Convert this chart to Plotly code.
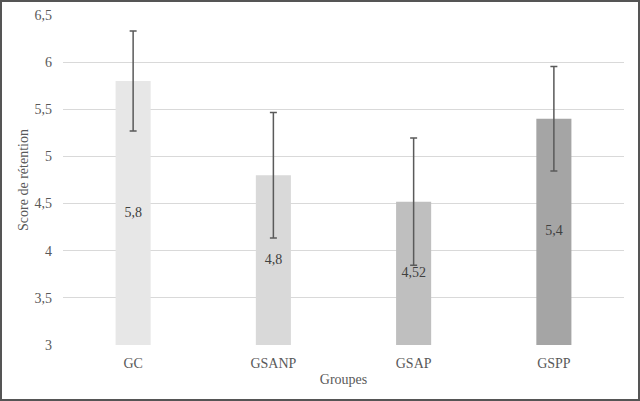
import plotly.graph_objects as go

categories = ["GC", "GSANP", "GSAP", "GSPP"]
scores = [5.8, 4.8, 4.52, 5.4]
errors = [0.53, 0.665, 0.675, 0.555]
bar_colors = ["#e7e7e7", "#d9d9d9", "#bfbfbf", "#a5a5a5"]
y_ticks = [3, 3.5, 4, 4.5, 5, 5.5, 6, 6.5]
y_min, y_max = 3, 6.5

labels = [str(v).replace(".", ",") for v in scores]
label_y = [(y_min + v) / 2 for v in scores]

W, H = 640, 401
ml, mr, mt, mb = 63, 16, 15, 56
pw, ph = W - ml - mr, H - mt - mb

fig = go.Figure()
fig.add_trace(go.Bar(
    x=categories, y=scores,
    marker=dict(color=bar_colors, line=dict(width=0)),
    error_y=dict(type="data", array=errors, visible=True,
                 color="#5a5a5a", thickness=1.5, width=3.5),
    hoverinfo="skip",
))
fig.add_trace(go.Scatter(
    x=categories, y=label_y, mode="text", text=labels,
    textposition="middle center",
    textfont=dict(family="Liberation Serif", size=14, color="#404040"),
    hoverinfo="skip",
))

fig.update_layout(
    width=W, height=H,
    margin=dict(l=ml, r=mr, t=mt, b=mb),
    paper_bgcolor="white", plot_bgcolor="white",
    separators=", ",
    bargap=0.75,
    showlegend=False,
    font=dict(family="Liberation Serif", size=14, color="#595959"),
    xaxis=dict(showgrid=False, showline=False, ticks="", automargin=False,
               ticklabelstandoff=8,
               title=dict(text="Groupes", standoff=4, font=dict(size=14))),
    yaxis=dict(range=[y_min, y_max], tickvals=y_ticks, showgrid=True,
               gridcolor="#d9d9d9", gridwidth=1, zeroline=False, automargin=False,
               showline=False, ticks="", ticklabelstandoff=10,
               title=dict(text="Score de rétention", standoff=2, font=dict(size=14))),
    shapes=[dict(type="rect", xref="paper", yref="paper",
                 x0=(1 - ml) / pw, x1=(W - 1 - ml) / pw,
                 y0=-(mb - 1) / ph, y1=1 + (mt - 1) / ph,
                 line=dict(color="#555555", width=2), layer="above")],
)

fig.write_html("out.html")
